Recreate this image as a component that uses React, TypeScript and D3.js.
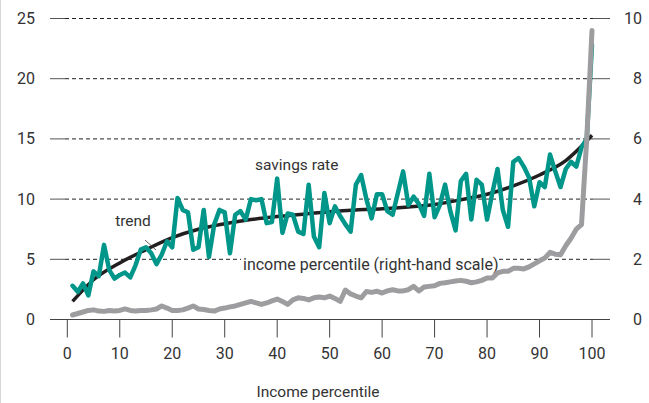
import React from "react";
import * as d3 from "d3";

const percentiles: number[] = d3.range(1, 101);

const savingsRate: number[] = [
  2.8, 2.3, 3.0, 2.0, 4.0, 3.6, 6.2, 4.1, 3.4, 3.7,
  3.9, 3.5, 4.5, 5.8, 6.0, 5.5, 4.6, 5.4, 6.5, 6.0,
  10.1, 9.1, 8.9, 5.8, 6.0, 9.1, 5.2, 7.9, 9.1, 8.9,
  5.5, 8.7, 9.0, 8.3, 10.0, 9.9, 10.0, 8.0, 8.1, 11.7,
  7.2, 8.8, 8.7, 7.3, 7.1, 11.2, 6.9, 6.0, 10.5, 8.0,
  9.4, 8.6, 7.9, 7.3, 11.2, 12.0, 10.0, 8.4, 10.4, 10.4,
  9.0, 8.7, 10.5, 12.3, 9.5, 10.2, 9.6, 8.6, 12.1, 8.5,
  9.5, 11.2, 9.0, 7.4, 11.5, 12.1, 8.3, 11.6, 11.2, 8.3,
  10.5, 12.5, 9.1, 7.7, 13.1, 13.4, 12.7, 11.8, 9.4, 11.4,
  11.0, 13.7, 12.3, 11.0, 12.5, 13.1, 12.7, 14.3, 15.0, 22.8,
];

const incomeShare: number[] = [
  0.15, 0.2, 0.25, 0.3, 0.32, 0.28, 0.27, 0.3, 0.28, 0.3,
  0.35, 0.3, 0.28, 0.3, 0.3, 0.32, 0.35, 0.45, 0.38, 0.3,
  0.3, 0.32, 0.38, 0.45, 0.35, 0.33, 0.3, 0.28, 0.35, 0.38,
  0.42, 0.45, 0.5, 0.55, 0.6, 0.55, 0.5, 0.55, 0.62, 0.68,
  0.6, 0.5, 0.65, 0.72, 0.7, 0.65, 0.72, 0.75, 0.72, 0.78,
  0.7, 0.6, 0.98, 0.85, 0.78, 0.72, 0.93, 0.9, 0.94, 0.88,
  0.95, 0.99, 0.95, 0.95, 0.99, 1.1, 0.95, 1.08, 1.1, 1.12,
  1.2, 1.22, 1.25, 1.28, 1.3, 1.27, 1.22, 1.25, 1.3, 1.38,
  1.38, 1.55, 1.6, 1.6, 1.7, 1.7, 1.68, 1.75, 1.85, 1.95,
  2.04, 2.23, 2.17, 2.15, 2.45, 2.7, 3.0, 3.15, 6.0, 9.6,
];

const trendX: number[] = [1, 5, 10, 15, 20, 25, 30, 35, 40, 45, 50, 55, 60, 65, 70, 75, 80, 85, 90, 95, 100];
const trendY: number[] = [1.5, 3.3, 4.7, 5.8, 6.8, 7.5, 7.95, 8.3, 8.55, 8.75, 8.95, 9.1, 9.2, 9.35, 9.55, 9.95, 10.4, 11.1, 12.0, 13.2, 15.3];

const xTicks: number[] = [0, 10, 20, 30, 40, 50, 60, 70, 80, 90, 100];
const leftTicks: number[] = [0, 5, 10, 15, 20, 25];
const rightTicks: number[] = [0, 2, 4, 6, 8, 10];

const W = 649;
const H = 403;
const FONT = "Roboto, 'Open Sans', sans-serif";

export default function App() {
  const x = d3.scaleLinear().domain([0, 100]).range([67.3, 592]);
  const yL = d3.scaleLinear().domain([0, 25]).range([319.5, 18.5]);
  const yR = d3.scaleLinear().domain([0, 10]).range([319.5, 18.5]);

  const plotLeft = 65;
  const plotRight = 593;
  const axisLeft = 50;
  const axisRight = 610;

  const tealLine = d3
    .line<number>()
    .x((_, i) => x(percentiles[i]))
    .y((d) => yL(d))
    .curve(d3.curveLinear);
  const grayLine = d3
    .line<number>()
    .x((_, i) => x(percentiles[i]))
    .y((d) => yR(d))
    .curve(d3.curveLinear);
  const trendLine = d3
    .line<number>()
    .x((_, i) => x(trendX[i]))
    .y((d) => yL(d))
    .curve(d3.curveMonotoneX);

  return (
    <svg
      width={W}
      height={H}
      style={{ position: "absolute", left: 0, top: 0, background: "#fff" }}
    >
      <line x1={0.5} x2={0.5} y1={0} y2={H} stroke="#d8d8d8" strokeWidth={1} />
      {leftTicks.map((t) =>
        t === 0 ? null : (
          <g key={"g" + t}>
            <line x1={axisLeft} x2={plotLeft} y1={yL(t)} y2={yL(t)} stroke="#555" strokeWidth={1} />
            <line
              x1={plotLeft}
              x2={plotRight}
              y1={yL(t)}
              y2={yL(t)}
              stroke="#222"
              strokeWidth={1}
              strokeDasharray="4,3"
            />
            <line x1={plotRight} x2={axisRight} y1={yL(t)} y2={yL(t)} stroke="#555" strokeWidth={1} />
          </g>
        )
      )}
      <line x1={axisLeft} x2={axisRight} y1={yL(0)} y2={yL(0)} stroke="#444" strokeWidth={1.2} />
      {xTicks.map((t) => (
        <line key={"xt" + t} x1={x(t)} x2={x(t)} y1={yL(0)} y2={yL(0) + 18} stroke="#444" strokeWidth={1} />
      ))}
      {xTicks.map((t) => (
        <text
          key={"xl" + t}
          x={x(t)}
          y={359}
          textAnchor="middle"
          fontFamily={FONT}
          fontSize={16}
          fill="#333"
        >
          {t}
        </text>
      ))}
      {leftTicks.map((t) => (
        <text
          key={"ll" + t}
          x={35}
          y={yL(t) + 5.5}
          textAnchor="end"
          fontFamily={FONT}
          fontSize={16}
          fill="#333"
        >
          {t}
        </text>
      ))}
      {rightTicks.map((t) => (
        <text
          key={"rl" + t}
          x={642}
          y={yR(t) + 5.5}
          textAnchor="end"
          fontFamily={FONT}
          fontSize={16}
          fill="#333"
        >
          {t}
        </text>
      ))}
      <text x={318} y={397} textAnchor="middle" fontFamily={FONT} fontSize={15.5} fill="#333">
        Income percentile
      </text>

      <rect x={241} y={254} width={258} height={20} fill="#fff" />
      <text x={243} y={270} fontFamily={FONT} fontSize={16} fill="#333">
        income percentile (right-hand scale)
      </text>

      <path d={trendLine(trendY) || ""} fill="none" stroke="#231f20" strokeWidth={3.5} strokeLinecap="butt" />
      <path
        d={tealLine(savingsRate) || ""}
        fill="none"
        stroke="#00968a"
        strokeWidth={4.5}
        strokeLinejoin="round"
        strokeLinecap="round"
      />
      <path
        d={grayLine(incomeShare) || ""}
        fill="none"
        stroke="#9d9d9f"
        strokeWidth={5}
        strokeLinejoin="round"
        strokeLinecap="round"
      />

      <line x1={145} y1={240} x2={156} y2={250} stroke="#333" strokeWidth={0.8} />
      <text x={133} y={226} textAnchor="middle" fontFamily={FONT} fontSize={15.5} fill="#333">
        trend
      </text>
      <text x={255} y={170} fontFamily={FONT} fontSize={15.5} fill="#333">
        savings rate
      </text>
    </svg>
  );
}
